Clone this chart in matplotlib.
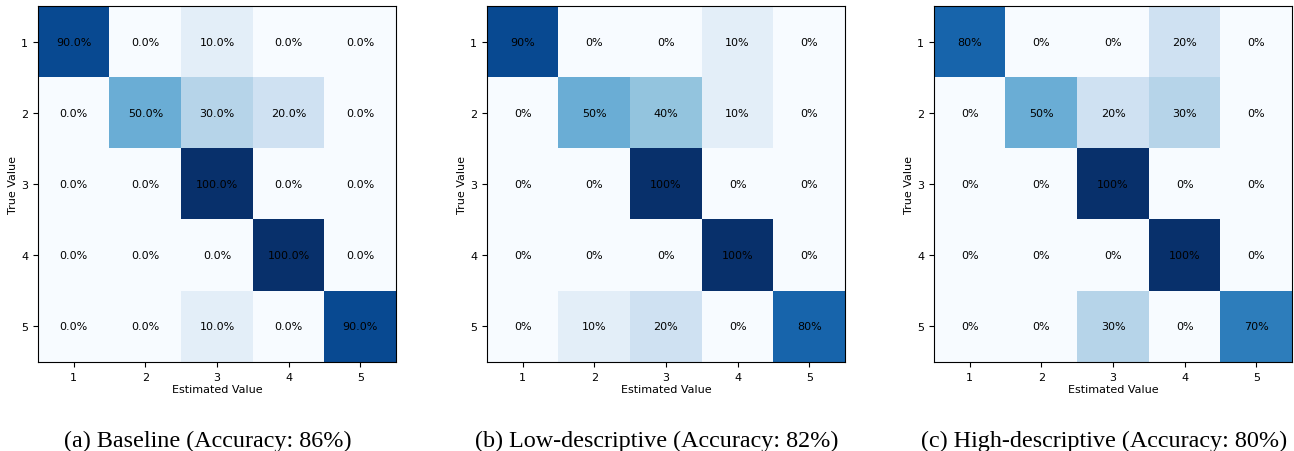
import numpy as np
import matplotlib
matplotlib.use("Agg")
import matplotlib.pyplot as plt

labels = ["1", "2", "3", "4", "5"]

# rows = true value, columns = estimated value (fractions)
cm_baseline = np.array([
    [0.9, 0.0, 0.1, 0.0, 0.0],
    [0.0, 0.5, 0.3, 0.2, 0.0],
    [0.0, 0.0, 1.0, 0.0, 0.0],
    [0.0, 0.0, 0.0, 1.0, 0.0],
    [0.0, 0.0, 0.1, 0.0, 0.9],
])
cm_low = np.array([
    [0.9, 0.0, 0.0, 0.1, 0.0],
    [0.0, 0.5, 0.4, 0.1, 0.0],
    [0.0, 0.0, 1.0, 0.0, 0.0],
    [0.0, 0.0, 0.0, 1.0, 0.0],
    [0.0, 0.1, 0.2, 0.0, 0.8],
])
cm_high = np.array([
    [0.8, 0.0, 0.0, 0.2, 0.0],
    [0.0, 0.5, 0.2, 0.3, 0.0],
    [0.0, 0.0, 1.0, 0.0, 0.0],
    [0.0, 0.0, 0.0, 1.0, 0.0],
    [0.0, 0.0, 0.3, 0.0, 0.7],
])

matrices = [cm_baseline, cm_low, cm_high]
formats = ["{:.1f}%", "{:.0f}%", "{:.0f}%"]
captions = ["(a) Baseline (Accuracy: 86%)",
            "(b) Low-descriptive (Accuracy: 82%)",
            "(c) High-descriptive (Accuracy: 80%)"]

fig = plt.figure(figsize=(12.94, 4.52), dpi=100)
lefts = [38, 487, 934]
W, H = 1294, 452

for i, (cm, fmt, cap) in enumerate(zip(matrices, formats, captions)):
    ax = fig.add_axes([lefts[i] / W, 1 - 363 / H, 358 / W, 356 / H])
    ax.imshow(cm, cmap="Blues", vmin=0, vmax=1, aspect="auto",
              interpolation="nearest")
    for r in range(5):
        for c in range(5):
            ax.text(c, r, fmt.format(cm[r, c] * 100), ha="center", va="center",
                    fontsize=8, color="black")
    ax.set_xticks(range(5))
    ax.set_yticks(range(5))
    ax.set_xticklabels(labels, fontsize=8)
    ax.set_yticklabels(labels, fontsize=8)
    ax.set_xlabel("Estimated Value", fontsize=8, labelpad=2)
    ax.set_ylabel("True Value", fontsize=8, labelpad=2)
    # caption sits under each panel, shifted a bit toward the y label
    cx = (lefts[i] + 170) / W
    fig.text(cx, 1 - 441 / H, cap, ha="center", va="center",
             family="Liberation Serif", fontsize=17.4)

fig.savefig("out.png", dpi=100)
